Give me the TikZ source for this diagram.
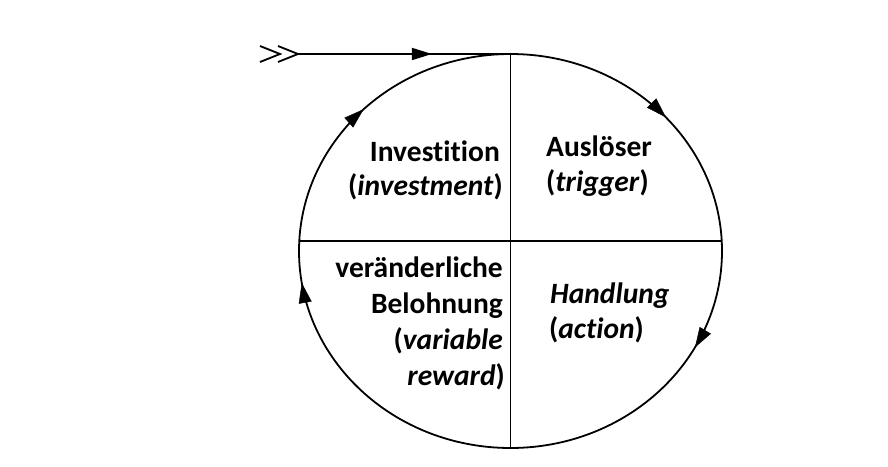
\documentclass[tikz,border=0pt]{standalone}
\usepackage{fontspec}
\setmainfont{Carlito}[Ligatures=NoCommon]
\usetikzlibrary{arrows.meta,shapes.geometric,decorations.markings}
\begin{document}
\begin{tikzpicture}[x=1pt,y=-1pt,
  ln/.style={line width=1.8pt},
  lbl/.style={inner sep=0pt,font=\fontsize{29.5}{35}\selectfont\bfseries},
  lft/.style={lbl,anchor=base east},
  rgt/.style={lbl,anchor=base west},
  cycarrows/.style={postaction=decorate,decoration={markings,
    mark=at position 0.134 with {\arrow{Triangle[length=20pt,width=13pt]}},
    mark=at position 0.329 with {\arrow{Triangle[length=20pt,width=13pt]}},
    mark=at position 0.725 with {\arrow{Triangle[length=20pt,width=13pt]}},
    mark=at position 0.875 with {\arrow{Triangle[length=20pt,width=13pt]}}}}
]
\useasboundingbox (0,0) rectangle (888,466);
\fill[white] (0,0) rectangle (888,466);
% cycle
\node[ellipse,draw,ln,minimum width=423pt,minimum height=394pt,inner sep=0pt,outer sep=0pt] (cyc) at (510.5,251) {};
\coordinate (hl) at (299.3,241);
\coordinate (hr) at (721.7,241);
\draw[ln] (cyc.north) -- (cyc.south);
\draw[ln] (hl) -- (hr);
\path[cycarrows] (cyc.north) arc[start angle=90,end angle=-270,x radius=211.5pt,y radius=197pt];
% entry
\coordinate (start) at (298,54);
\draw[ln,postaction=decorate,decoration={markings,mark=at position 0.63 with {\arrow{Triangle[length=20pt,width=12pt]}}}] (start) -- (cyc.north);
\draw[ln] (start) ++(-20,-8) -- (start) -- ++(-20,8);
\draw[ln] (start) ++(-38,-8) -- ++(20,8) -- ++(-20,8);
% labels
\node[lft] (inv1) at (500,161) {Investition};
\node[lft] (inv2) at (503,195) {(\textit{investment})};
\node[rgt] (aus1) at (546,156) {Auslöser};
\node[rgt] (aus2) at (546,191) {(\textit{trigger})};
\node[lft] (bel1) at (503,277) {veränderliche};
\node[lft] (bel2) at (503,313) {Belohnung};
\node[lft] (bel3) at (503,349) {(\textit{variable}};
\node[lft] (bel4) at (505,385) {\textit{reward})};
\node[rgt] (act1) at (550,303) {\textit{Handlung}};
\node[rgt] (act2) at (549,338) {(\textit{action})};
\end{tikzpicture}
\end{document}
